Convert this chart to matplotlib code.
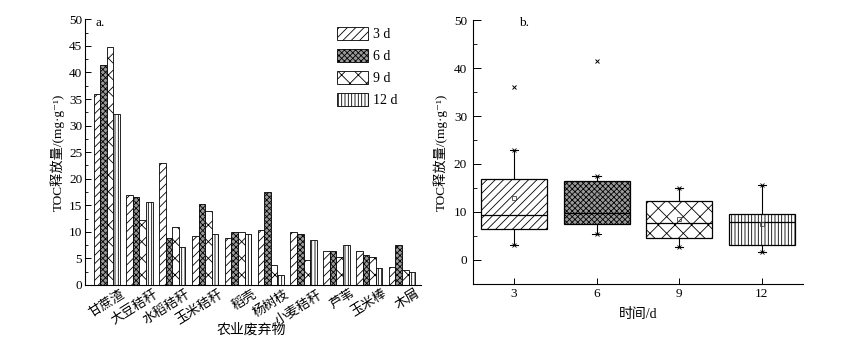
import matplotlib
matplotlib.use("Agg")
import matplotlib.pyplot as plt
import matplotlib.transforms as mtransforms
import numpy as np

plt.rcParams['font.family'] = ['Liberation Serif', 'Noto Sans CJK SC', 'DejaVu Sans']
plt.rcParams['hatch.linewidth'] = 0.6
plt.rcParams['axes.unicode_minus'] = False

# ---- panel a data ----
categories = ["甘蔗渣", "大豆秸秆", "水稻秸秆", "玉米秸秆", "稻壳", "杨树枝", "小麦秸秆", "芦苇", "玉米棒", "木屑"]
series_names = ["3 d", "6 d", "9 d", "12 d"]
d3 = [36.0, 16.9, 23.0, 9.2, 8.9, 10.3, 9.9, 6.4, 6.4, 3.3]
d6 = [41.5, 16.5, 8.8, 15.2, 9.9, 17.5, 9.5, 6.4, 5.6, 7.5]
d9 = [44.8, 12.3, 11.0, 13.9, 9.9, 3.7, 4.6, 5.3, 5.2, 2.8]
d12 = [32.2, 15.7, 7.1, 9.6, 9.6, 1.8, 8.4, 7.5, 3.1, 2.4]

# ---- panel b data (box statistics) ----
box_labels = ["3", "6", "9", "12"]
box_q1 = [6.4, 7.5, 4.6, 3.1]
box_med = [9.4, 9.7, 7.6, 8.0]
box_q3 = [16.9, 16.5, 12.3, 9.6]
box_whislo = [3.2, 5.5, 2.6, 1.75]
box_whishi = [23.0, 17.4, 14.9, 15.7]
box_mean = [13.0, 13.8, 8.5, 7.4]
box_fliers = [[36.0], [41.5], [], []]

hatches = ['////', 'xxxxxx', 'xx', '|||||']
facecolors = ['white', '#9a9a9a', 'white', 'white']
ylabel_text = "TOC释放量/(mg·g⁻¹)"

fig = plt.figure(figsize=(8.5, 3.4), dpi=100)

# ================= panel a =================
ax1 = fig.add_axes([0.100, 0.162, 0.395, 0.781])
series = [d3, d6, d9, d12]
x = np.arange(len(categories))
bw = 0.2
handles = []
for i, vals in enumerate(series):
    b = ax1.bar(x + (i - 1.5) * bw, vals, bw, facecolor=facecolors[i], edgecolor='black',
                hatch=hatches[i], linewidth=0.6, label=series_names[i])
    handles.append(b)
ax1.set_xlim(-0.66, 9.57)
ax1.set_ylim(0, 50)
ax1.set_yticks(np.arange(0, 51, 5))
ax1.set_yticks(np.arange(0, 50, 2.5), minor=True)
ax1.set_xticks(x)
ax1.set_xticklabels([])
base = mtransforms.blended_transform_factory(ax1.transData, ax1.transAxes)
offset = mtransforms.ScaledTranslation(14 / 100, -3 / 100, fig.dpi_scale_trans)
for xi, cat in zip(x, categories):
    ax1.text(xi, 0, cat, transform=base + offset, rotation=32, ha='right', va='top',
             rotation_mode='anchor', fontsize=9.5, clip_on=False)
ax1.tick_params(axis='x', length=0, pad=3)
ax1.tick_params(axis='y', which='major', direction='in', length=4, width=0.7, labelsize=9.5, pad=2)
ax1.tick_params(axis='y', which='minor', direction='in', length=2, width=0.6)
for s in ['top', 'right']:
    ax1.spines[s].set_visible(False)
for s in ['left', 'bottom']:
    ax1.spines[s].set_linewidth(0.8)
ax1.set_ylabel(ylabel_text, fontsize=9.5, labelpad=3)
fig.text(0.295, 1 - 330 / 340, "农业废弃物", fontsize=10, ha='center', va='center')
ax1.text(0.03, 0.985, "a.", transform=ax1.transAxes, fontsize=9.5, va='center', ha='left')
leg = ax1.legend(handles=handles, loc='upper left', bbox_to_anchor=(337 / 850, 1 - 27 / 340),
                 bbox_transform=fig.transFigure, frameon=False,
                 fontsize=10, handlelength=2.2, handleheight=1.1, labelspacing=0.55,
                 handletextpad=0.4, borderaxespad=0, borderpad=0)

# ================= panel b =================
ax2 = fig.add_axes([0.556, 0.165, 0.389, 0.776])
stats = []
for i in range(4):
    stats.append(dict(med=box_med[i], q1=box_q1[i], q3=box_q3[i], whislo=box_whislo[i],
                      whishi=box_whishi[i], mean=box_mean[i], fliers=box_fliers[i], label=box_labels[i]))
pos = np.arange(1, 5)
bp = ax2.bxp(stats, positions=pos, widths=0.8, patch_artist=True, showmeans=True,
             showfliers=True, capwidths=0.1,
             boxprops=dict(linewidth=0.9, edgecolor='black'),
             medianprops=dict(color='black', linewidth=0.9),
             whiskerprops=dict(color='black', linewidth=0.8),
             capprops=dict(color='black', linewidth=0.8),
             meanprops=dict(marker='s', markersize=3.2, markerfacecolor='none',
                            markeredgecolor='#444444', markeredgewidth=0.6),
             flierprops=dict(marker='x', markersize=3.5, markeredgecolor='black', markeredgewidth=0.7))
for i, patch in enumerate(bp['boxes']):
    patch.set_facecolor(facecolors[i])
    patch.set_hatch(hatches[i])
for i in range(4):
    ax2.plot([pos[i], pos[i]], [box_whislo[i], box_whishi[i]], linestyle='none', marker='x',
             markersize=3.5, color='black', markeredgewidth=0.6)
ax2.set_xlim(0.5, 4.5)
ax2.set_ylim(-5, 50)
ax2.set_yticks(np.arange(0, 51, 10))
ax2.set_yticks(np.arange(-5, 51, 5), minor=True)
ax2.set_xticks(pos)
ax2.set_xticklabels(box_labels)
ax2.tick_params(axis='x', direction='in', length=4, width=0.7, labelsize=9.5, pad=3)
ax2.tick_params(axis='y', which='major', direction='in', length=6, width=0.7, labelsize=9.5, pad=4)
ax2.tick_params(axis='y', which='minor', direction='in', length=3, width=0.6)
for s in ['top', 'right']:
    ax2.spines[s].set_visible(False)
for s in ['left', 'bottom']:
    ax2.spines[s].set_linewidth(0.8)
ax2.set_ylabel(ylabel_text, fontsize=9.5, labelpad=4)
ax2.set_xlabel("时间/d", fontsize=10, labelpad=6)
ax2.text(0.14, 0.99, "b.", transform=ax2.transAxes, fontsize=9.5, va='center', ha='left')

fig.savefig("out.png", dpi=100)
